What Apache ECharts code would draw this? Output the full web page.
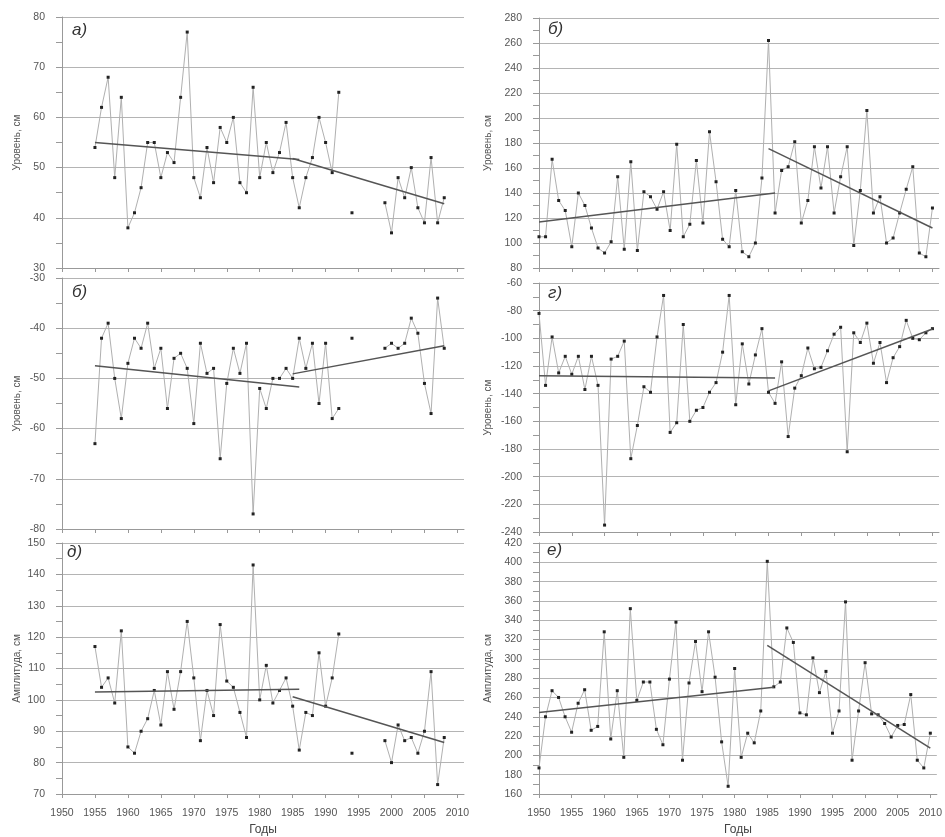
<!DOCTYPE html>
<html>
<head>
<meta charset="utf-8">
<script src="https://cdn.jsdelivr.net/npm/echarts@6/dist/echarts.min.js"></script>
<style>
html,body{margin:0;padding:0;background:#fff;}
#chart{width:945px;height:837px;}
</style>
</head>
<body>
<div id="chart"></div>
<script>
// ---------- DATA ----------
const yearsLeft = [1955,1956,1957,1958,1959,1960,1961,1962,1963,1964,1965,1966,1967,1968,1969,1970,1971,1972,1973,1974,1975,1976,1977,1978,1979,1980,1981,1982,1983,1984,1985,1986,1987,1988,1989,1990,1991,1992,1993,1994,1995,1996,1997,1998,1999,2000,2001,2002,2003,2004,2005,2006,2007,2008];
const yearsRight = [1950,1951,1952,1953,1954,1955,1956,1957,1958,1959,1960,1961,1962,1963,1964,1965,1966,1967,1968,1969,1970,1971,1972,1973,1974,1975,1976,1977,1978,1979,1980,1981,1982,1983,1984,1985,1986,1987,1988,1989,1990,1991,1992,1993,1994,1995,1996,1997,1998,1999,2000,2001,2002,2003,2004,2005,2006,2007,2008,2009,2010];
const xTickLabels = [1950,1955,1960,1965,1970,1975,1980,1985,1990,1995,2000,2005,2010];

// а) left top – level, cm
const levelA = [54,62,68,48,64,38,41,46,55,55,48,53,51,64,77,48,44,54,47,58,55,60,47,45,66,48,55,49,53,59,48,42,48,52,60,55,49,65,null,41,null,null,null,null,43,37,48,44,50,42,39,52,39,44];
const trendA1 = [[1955,55.0],[1986,51.6]];
const trendA2 = [[1985,51.8],[2008,42.8]];

// б) left middle – level, cm
const levelB2 = [-63,-42,-39,-50,-58,-47,-42,-44,-39,-48,-44,-56,-46,-45,-48,-59,-43,-49,-48,-66,-51,-44,-49,-43,-77,-52,-56,-50,-50,-48,-50,-42,-48,-43,-55,-43,-58,-56,null,-42,null,null,null,null,-44,-43,-44,-43,-38,-41,-51,-57,-34,-44];
const trendB2a = [[1955,-47.5],[1986,-51.7]];
const trendB2b = [[1985,-49.1],[2008,-43.5]];

// д) left bottom – amplitude, cm
const amplD = [117,104,107,99,122,85,83,90,94,103,92,109,97,109,125,107,87,103,95,124,106,104,96,88,143,100,111,99,103,107,98,84,96,95,115,98,107,121,null,83,null,null,null,null,87,80,92,87,88,83,90,109,73,88];
const trendD1 = [[1955,102.5],[1986,103.4]];
const trendD2 = [[1985,101.0],[2008,86.4]];

// б) right top – level, cm
const levelB = [105,105,167,134,126,97,140,130,112,96,92,101,153,95,165,94,141,137,127,141,110,179,105,115,166,116,189,149,103,97,142,93,89,100,152,262,124,158,161,181,116,134,177,144,177,124,153,177,98,142,206,124,137,100,104,124,143,161,92,89,128];
const trendB1 = [[1950,116.8],[1986,140.0]];
const trendB2 = [[1985,175.5],[2010,112.0]];

// г) right middle – level, cm
const levelG = [-82,-134,-99,-125,-113,-126,-113,-137,-113,-134,-235,-115,-113,-102,-187,-163,-135,-139,-99,-69,-168,-161,-90,-160,-152,-150,-139,-132,-110,-69,-148,-104,-133,-112,-93,-139,-147,-117,-171,-136,-127,-107,-122,-121,-109,-97,-92,-182,-96,-103,-89,-118,-103,-132,-114,-106,-87,-100,-101,-96,-93];
const trendG1 = [[1950,-127.0],[1986,-128.7]];
const trendG2 = [[1985,-138.0],[2010,-93.3]];

// е) right bottom – amplitude, cm
const amplE = [187,240,267,260,240,224,254,268,226,230,328,217,267,198,352,257,276,276,227,211,279,338,195,275,318,266,328,281,214,168,290,198,223,213,246,401,271,276,332,317,244,242,301,265,287,223,246,359,195,246,296,243,242,233,219,231,232,263,195,187,223];
const trendE1 = [[1950,244.3],[1986,270.5]];
const trendE2 = [[1985,314.0],[2010,207.5]];

// ---------- LAYOUT ----------
const FONT = "'Liberation Sans', Arial, sans-serif";
const panels = [
  {letter:'а)', years:yearsLeft, vals:levelA, trends:[trendA1,trendA2], name:'Уровень, см', min:30, max:80, interval:10,
   grid:{left:62, top:17, width:402, height:251}, bottom:false, nameGap:40, letterPos:{left:72, top:22}},
  {letter:'б)', years:yearsLeft, vals:levelB2, trends:[trendB2a,trendB2b], name:'Уровень, см', min:-80, max:-30, interval:10,
   grid:{left:62, top:278, width:402, height:251}, bottom:false, nameGap:40, letterPos:{left:72, top:284}},
  {letter:'д)', years:yearsLeft, vals:amplD, trends:[trendD1,trendD2], name:'Амплитуда, см', min:70, max:150, interval:10,
   grid:{left:62, top:543, width:402, height:251}, bottom:true, nameGap:40, letterPos:{left:67, top:544}},
  {letter:'б)', years:yearsRight, vals:levelB, trends:[trendB1,trendB2], name:'Уровень, см', min:80, max:280, interval:20,
   grid:{left:539, top:18, width:400, height:250}, bottom:false, nameGap:46, letterPos:{left:548, top:21}},
  {letter:'г)', years:yearsRight, vals:levelG, trends:[trendG1,trendG2], name:'Уровень, см', min:-240, max:-60, interval:20,
   grid:{left:539, top:283, width:400, height:249}, bottom:false, nameGap:46, letterPos:{left:548, top:285}},
  {letter:'е)', years:yearsRight, vals:amplE, trends:[trendE1,trendE2], name:'Амплитуда, см', min:160, max:420, interval:20,
   grid:{left:539, top:543, width:400, height:251}, bottom:true, nameGap:46, letterPos:{left:547, top:542}}
];

const grids = [], xAxes = [], yAxes = [], series = [], titles = [];
panels.forEach((p, i) => {
  grids.push(Object.assign({containLabel:false}, p.grid));
  xAxes.push({
    type:'value', gridIndex:i, min:1950, max:2011, interval:5,
    name: p.bottom ? 'Годы' : '', nameLocation:'middle', nameGap:30,
    nameTextStyle:{fontFamily:FONT, fontSize:12, color:'#444'},
    axisLine:{show:true, onZero:false, lineStyle:{color:'#999', width:1}},
    axisTick:{show:true, inside:false, length:4, customValues:xTickLabels, lineStyle:{color:'#999'}},
    axisLabel:{show:p.bottom, customValues:xTickLabels, margin:14, fontFamily:FONT, fontSize:10.5, color:'#555',
               formatter:v => String(v)},
    splitLine:{show:false}
  });
  yAxes.push({
    type:'value', gridIndex:i, min:p.min, max:p.max, interval:p.interval,
    name:p.name, nameLocation:'middle', nameGap:p.nameGap, nameRotate:90,
    nameTextStyle:{fontFamily:FONT, fontSize:10, color:'#555'},
    axisLine:{show:true, lineStyle:{color:'#999', width:1}},
    axisTick:{show:true, length:6, lineStyle:{color:'#999'}},
    minorTick:{show:true, splitNumber:2, length:6, lineStyle:{color:'#999'}},
    axisLabel:{margin:17, fontFamily:FONT, fontSize:10.5, color:'#555', formatter:v => String(v)},
    splitLine:{show:true, lineStyle:{color:'#b4b4b4', width:1}}
  });
  series.push({
    type:'line', xAxisIndex:i, yAxisIndex:i,
    data:p.years.map((y, k) => [y, p.vals[k] === null ? '-' : p.vals[k]]),
    connectNulls:false, symbol:'rect', symbolSize:3, showSymbol:true,
    lineStyle:{color:'#b0b0b0', width:1},
    itemStyle:{color:'#222'},
    z:2, animation:false
  });
  p.trends.forEach(t => {
    series.push({
      type:'line', xAxisIndex:i, yAxisIndex:i, data:t, symbol:'none',
      lineStyle:{color:'#555', width:1.5}, z:3, animation:false
    });
  });
  titles.push({
    text:p.letter, left:p.letterPos.left, top:p.letterPos.top, padding:0,
    textStyle:{fontFamily:FONT, fontSize:17, fontStyle:'italic', fontWeight:'normal', color:'#333'}
  });
});

const chart = echarts.init(document.getElementById('chart'), null, {renderer:'canvas'});
chart.setOption({
  backgroundColor:'#fff',
  animation:false,
  title:titles,
  grid:grids,
  xAxis:xAxes,
  yAxis:yAxes,
  series:series
});
</script>
</body>
</html>
